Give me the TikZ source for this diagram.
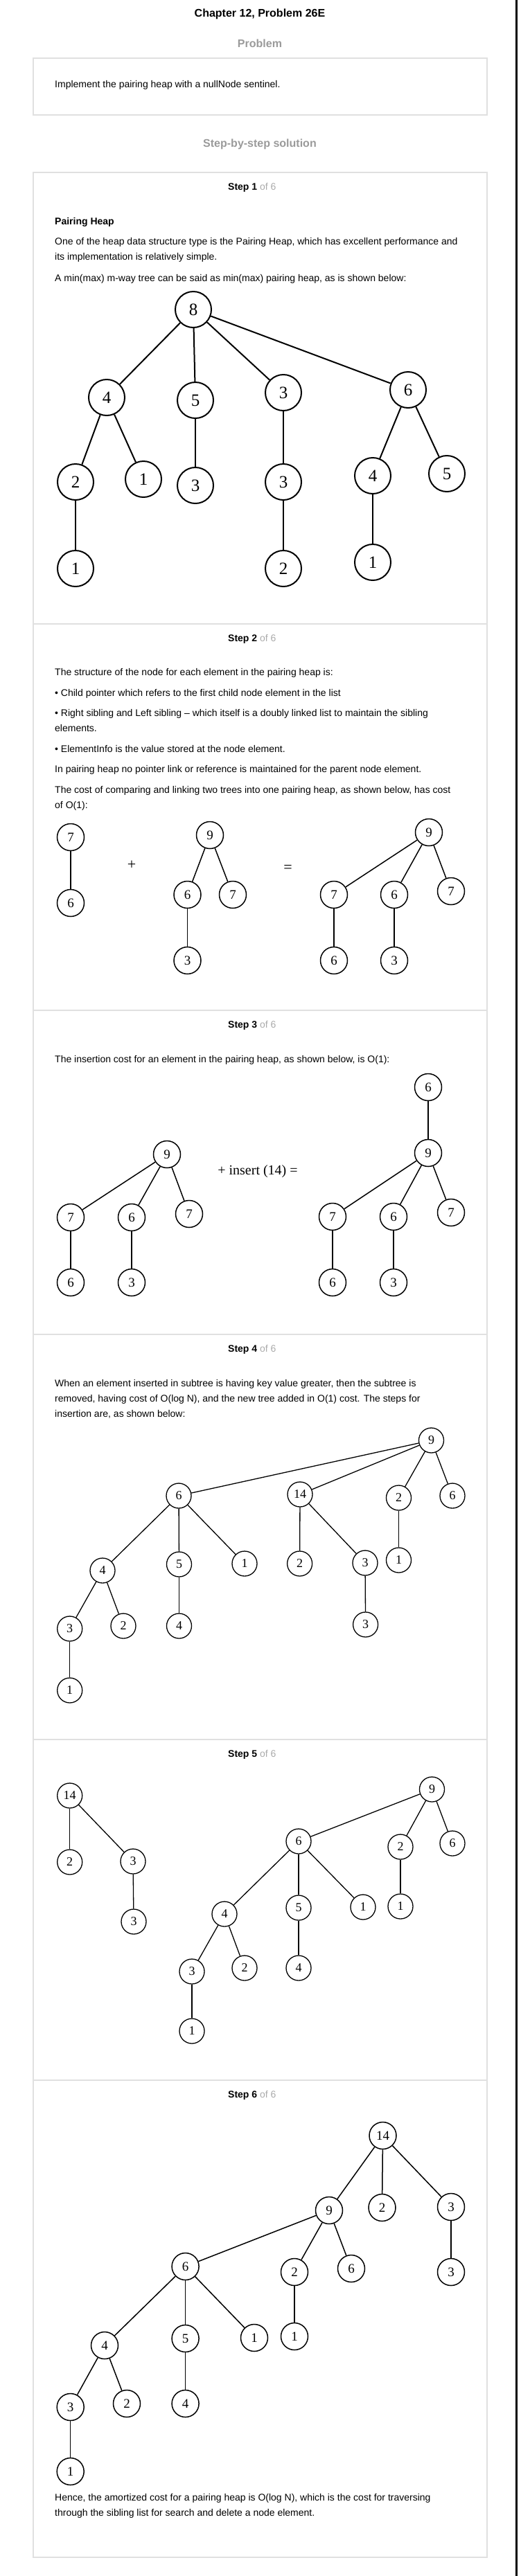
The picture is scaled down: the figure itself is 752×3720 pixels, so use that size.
\documentclass[tikz,border=0pt]{standalone}
\usepackage{fontspec}
\setmainfont{Liberation Sans}
\newfontfamily\keyfont{Liberation Serif}
\definecolor{headgray}{HTML}{9A9A9A}
\definecolor{stepgray}{HTML}{AAAAAA}
\definecolor{boxgray}{HTML}{E0E0E0}
\tikzset{
  txt/.style={anchor=base west, inner sep=0pt, font=\fontsize{14}{16}\selectfont},
  chaptitle/.style={anchor=base, inner sep=0pt, font=\bfseries\fontsize{16}{18}\selectfont},
  heapkey/.style={circle, draw, inner sep=0pt, line width=1.5pt, minimum size=39pt, font=\keyfont\fontsize{19}{19}\selectfont},
  bigheapkey/.style={heapkey, line width=2pt, minimum size=52pt, font=\keyfont\fontsize{25}{25}\selectfont},
  smallheapkey/.style={heapkey, line width=1.3pt, minimum size=36pt, font=\keyfont\fontsize{18}{18}\selectfont},
  sign/.style={inner sep=0pt, font=\keyfont\fontsize{22}{22}\selectfont}
}
\begin{document}
\begin{tikzpicture}[x=1pt,y=-1pt]
\useasboundingbox (0,0) rectangle (752,3720);
% frames
\draw[boxgray, line width=1.2pt] (48,84) rectangle (703,166);
\draw[boxgray, line width=1.2pt] (48,249) rectangle (703,3693);
\foreach \y in {901,1459,1927,2512,3004}
  \draw[boxgray, line width=1.2pt] (48,\y) -- (703,\y);
\draw[line width=3pt] (745,0) -- (745,3720);

% headings
\node[chaptitle] (chap) at (375,25) {Chapter 12, Problem 26E};
\node[chaptitle, text=headgray] (prob) at (375,69) {Problem};
\node[txt] (probtext) at (79,127) {Implement the pairing heap with a nullNode sentinel.};
\node[chaptitle, text=headgray] (sol) at (375,212) {Step-by-step solution};

% step 1
\node[txt] (s1) at (329,274.5) {\textbf{Step 1} \textcolor{stepgray}{of 6}};
\node[txt] (s1a) at (79,324.5) {\textbf{Pairing Heap}};
\node[txt] (s1b) at (79,353.5) {One of the heap data structure type is the Pairing Heap, which has excellent performance and};
\node[txt] (s1c) at (79,375) {its implementation is relatively simple.};
\node[txt] (s1d) at (79,406) {A min(max) m-way tree can be said as min(max) pairing heap, as is shown below:};

\node[bigheapkey] (p8) at (279,447) {8};
\node[bigheapkey] (p4) at (154,574) {4};
\node[bigheapkey] (p5) at (282,578) {5};
\node[bigheapkey] (p3) at (409,567) {3};
\node[bigheapkey] (p6) at (589,563) {6};
\node[bigheapkey] (p42) at (109,696) {2};
\node[bigheapkey] (p41) at (207,692) {1};
\node[bigheapkey] (p53) at (282,701) {3};
\node[bigheapkey] (p33) at (409,696) {3};
\node[bigheapkey] (p64) at (538,687) {4};
\node[bigheapkey] (p65) at (645,684) {5};
\node[bigheapkey] (p421) at (109,821) {1};
\node[bigheapkey] (p332) at (409,821) {2};
\node[bigheapkey] (p641) at (538,812) {1};
\foreach \a/\b in {p8/p4,p8/p5,p8/p3,p8/p6,p4/p42,p4/p41,p5/p53,p3/p33,p6/p64,p6/p65,p42/p421,p33/p332,p64/p641}
  \draw[line width=2pt] (\a) -- (\b);

% step 2
\node[txt] (s2) at (329,926) {\textbf{Step 2} \textcolor{stepgray}{of 6}};
\node[txt] (s2a) at (79,975) {The structure of the node for each element in the pairing heap is:};
\node[txt] (s2b) at (79,1005) {• Child pointer which refers to the first child node element in the list};
\node[txt] (s2c) at (79,1034) {• Right sibling and Left sibling – which itself is a doubly linked list to maintain the sibling};
\node[txt] (s2d) at (79,1056) {elements.};
\node[txt] (s2e) at (79,1086) {• ElementInfo is the value stored at the node element.};
\node[txt] (s2f) at (79,1115) {In pairing heap no pointer link or reference is maintained for the parent node element.};
\node[txt] (s2g) at (79,1145) {The cost of comparing and linking two trees into one pairing heap, as shown below, has cost};
\node[txt] (s2h) at (79,1167) {of O(1):};

\node[heapkey] (u7) at (102,1209) {7};
\node[heapkey] (u76) at (102,1304) {6};
\node[sign] (plus) at (190,1249.5) {+};
\node[heapkey] (v9) at (303,1206) {9};
\node[heapkey] (v96) at (270.5,1292) {6};
\node[heapkey] (v97) at (336,1292) {7};
\node[heapkey] (v963) at (270.5,1387) {3};
\node[sign] (eq) at (415.5,1254) {=};
\node[heapkey] (w9) at (619,1202) {9};
\node[heapkey] (w97) at (482,1292) {7};
\node[heapkey] (w96) at (569,1292) {6};
\node[heapkey] (w97b) at (651,1287) {7};
\node[heapkey] (w976) at (482,1387) {6};
\node[heapkey] (w963) at (569,1387) {3};
\foreach \a/\b in {u7/u76,v9/v96,v9/v97,v96/v963,w9/w97,w9/w96,w9/w97b,w97/w976,w96/w963}
  \draw[line width=1.5pt] (\a) -- (\b);

% step 3
\node[txt] (s3) at (329,1484) {\textbf{Step 3} \textcolor{stepgray}{of 6}};
\node[txt] (s3a) at (79,1534) {The insertion cost for an element in the pairing heap, as shown below, is O(1):};

\node[heapkey] (l9) at (241,1667) {9};
\node[heapkey] (l97) at (102,1758) {7};
\node[heapkey] (l96) at (190,1758) {6};
\node[heapkey] (l97b) at (273,1753) {7};
\node[heapkey] (l976) at (102,1852) {6};
\node[heapkey] (l963) at (190,1852) {3};
\node[inner sep=0pt, font=\keyfont\fontsize{20}{20}\selectfont] (ins) at (372,1692) {+ insert (14) =};
\node[heapkey] (r6) at (618,1570) {6};
\node[heapkey] (r9) at (618,1665) {9};
\node[heapkey] (r97) at (480,1757) {7};
\node[heapkey] (r96) at (568,1757) {6};
\node[heapkey] (r97b) at (651,1751) {7};
\node[heapkey] (r976) at (480,1852) {6};
\node[heapkey] (r963) at (568,1852) {3};
\foreach \a/\b in {l9/l97,l9/l96,l9/l97b,l97/l976,l96/l963,r6/r9,r9/r97,r9/r96,r9/r97b,r97/r976,r96/r963}
  \draw[line width=1.5pt] (\a) -- (\b);

% step 4
\node[txt] (s4) at (329,1952) {\textbf{Step 4} \textcolor{stepgray}{of 6}};
\node[txt] (s4a) at (79,2002) {When an element inserted in subtree is having key value greater, then the subtree is};
\node[txt] (s4b) at (79,2024) {removed, having cost of O(log N), and the new tree added in O(1) cost. The steps for};
\node[txt] (s4c) at (79,2046.5) {insertion are, as shown below:};

\node[smallheapkey] (f9) at (622.5,2080) {9};
\node[smallheapkey] (f6) at (258,2160) {6};
\node[smallheapkey] (f14) at (433,2158) {14};
\node[smallheapkey] (f2) at (575.5,2163) {2};
\node[smallheapkey] (f6r) at (653,2160) {6};
\node[smallheapkey] (f4) at (148,2268) {4};
\node[smallheapkey] (f5) at (258.5,2259) {5};
\node[smallheapkey] (f1) at (353,2258) {1};
\node[smallheapkey] (f142) at (432.6,2258) {2};
\node[smallheapkey] (f143) at (527,2257) {3};
\node[smallheapkey] (f21) at (575.5,2253) {1};
\node[smallheapkey] (f43) at (100.7,2352) {3};
\node[smallheapkey] (f42) at (178,2348) {2};
\node[smallheapkey] (f54) at (258.5,2348) {4};
\node[smallheapkey] (f33) at (527.6,2346) {3};
\node[smallheapkey] (f31) at (100.7,2441) {1};
\foreach \a/\b in {f9/f6,f9/f14,f9/f2,f9/f6r,f6/f4,f6/f5,f6/f1,f14/f142,f14/f143,f2/f21,f4/f43,f4/f42,f5/f54,f143/f33,f43/f31}
  \draw[line width=1.3pt] (\a) -- (\b);

% step 5
\node[txt] (s5) at (329,2537) {\textbf{Step 5} \textcolor{stepgray}{of 6}};

\node[smallheapkey] (g14) at (100.7,2593) {14};
\node[smallheapkey] (g2) at (100.7,2689) {2};
\node[smallheapkey] (g3) at (192,2688) {3};
\node[smallheapkey] (g33) at (193,2775) {3};
\node[smallheapkey] (g9) at (623.5,2584) {9};
\node[smallheapkey] (g6) at (431,2659) {6};
\node[smallheapkey] (g2b) at (578,2667) {2};
\node[smallheapkey] (g6r) at (653,2662) {6};
\node[smallheapkey] (g4) at (324,2764) {4};
\node[smallheapkey] (g5) at (431,2755) {5};
\node[smallheapkey] (g1) at (524,2754) {1};
\node[smallheapkey] (g21) at (578,2753) {1};
\node[smallheapkey] (g43) at (277,2847) {3};
\node[smallheapkey] (g42) at (353,2842) {2};
\node[smallheapkey] (g54) at (431,2842) {4};
\node[smallheapkey] (g31) at (277,2933) {1};
\foreach \a/\b in {g14/g2,g14/g3,g3/g33,g9/g6,g9/g2b,g9/g6r,g6/g4,g6/g5,g6/g1,g2b/g21,g4/g43,g4/g42,g5/g54,g43/g31}
  \draw[line width=1.3pt] (\a) -- (\b);

% step 6
\node[txt] (s6) at (329,3029) {\textbf{Step 6} \textcolor{stepgray}{of 6}};

\node[heapkey] (h14) at (552.5,3084) {14};
\node[heapkey] (h9) at (475,3192) {9};
\node[heapkey] (h2) at (551.5,3188) {2};
\node[heapkey] (h3) at (651,3187) {3};
\node[heapkey] (h33) at (651,3281) {3};
\node[heapkey] (h6) at (267.6,3273) {6};
\node[heapkey] (h92) at (425,3281) {2};
\node[heapkey] (h96) at (507,3276) {6};
\node[heapkey] (h4) at (151,3387) {4};
\node[heapkey] (h5) at (267.6,3377) {5};
\node[heapkey] (h1) at (367,3376) {1};
\node[heapkey] (h21) at (425,3374) {1};
\node[heapkey] (h43) at (101.7,3476) {3};
\node[heapkey] (h42) at (183,3471) {2};
\node[heapkey] (h54) at (267.6,3471) {4};
\node[heapkey] (h31) at (101.7,3569) {1};
\foreach \a/\b in {h14/h9,h14/h2,h14/h3,h3/h33,h9/h6,h9/h92,h9/h96,h92/h21,h6/h4,h6/h5,h6/h1,h4/h43,h4/h42,h5/h54,h43/h31}
  \draw[line width=1.5pt] (\a) -- (\b);

\node[txt] (s6a) at (79,3611) {Hence, the amortized cost for a pairing heap is O(log N), which is the cost for traversing};
\node[txt] (s6b) at (79,3633) {through the sibling list for search and delete a node element.};
\end{tikzpicture}
\end{document}
